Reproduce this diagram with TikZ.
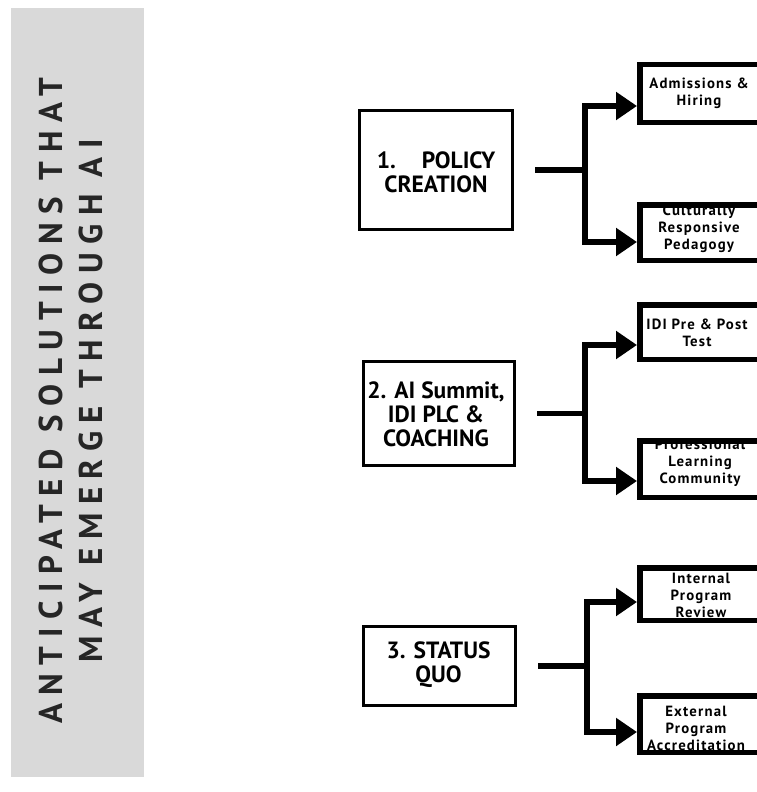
\documentclass[tikz,border=0pt]{standalone}
\usepackage{fontspec}
\setmainfont{PT Sans}
\newfontfamily\titlefont[LetterSpace=26]{PT Sans Bold}
\newfontfamily\boxfont{PT Sans Bold}
\newfontfamily\leaffont[LetterSpace=8]{PT Sans Bold}
\usetikzlibrary{arrows.meta}
\definecolor{bandgray}{HTML}{D9D9D9}
\definecolor{titleink}{HTML}{262626}
\begin{document}
\begin{tikzpicture}[x=1pt,y=-1pt,
  mainbox/.style={draw, line width=3pt, inner sep=0pt},
  maintext/.style={inner sep=0pt, align=center, anchor=north,
    font=\boxfont\fontsize{23.5}{24}\selectfont},
  leafbox/.style={draw, line width=5.5pt, inner sep=0pt, minimum width=194.5pt},
  leaftext/.style={inner sep=0pt, align=center, anchor=north,
    font=\leaffont\fontsize{14.8}{17.2}\selectfont},
  link/.style={line width=5.5pt},
  branch/.style={line width=5.5pt, -{Triangle[length=21pt,width=27pt]}},
]
\useasboundingbox (0,0) rectangle (757,792);

% side band with the heading
\fill[bandgray] (11,8) rectangle (144,777);
\node[rotate=90, align=center, text=titleink,
  font=\titlefont\fontsize{33}{40}\selectfont] (title) at (71,401)
  {ANTICIPATED SOLUTIONS THAT\\MAY EMERGE THROUGH AI};

% main boxes
\node[mainbox, minimum width=153pt, minimum height=119pt] (b1) at (436,170) {};
\node[mainbox, minimum width=151pt, minimum height=104pt] (b2) at (439,413.5) {};
\node[mainbox, minimum width=152pt, minimum height=79pt] (b3) at (439.5,666) {};
\node[maintext] (t1) at (436,152) {1.\hspace{1.1em}POLICY\\CREATION};
\node[maintext] (t2) at (436,382) {2. AI Summit,\\IDI PLC \&\\COACHING};
\node[maintext] (t3) at (438.5,642) {3. STATUS\\QUO};

% leaf texts (the box borders are drawn over them)
\node[leaftext] (l1) at (699,77.6) {Admissions \&\\Hiring};
\node[leaftext] (l2) at (699,204.6) {Culturally\\Responsive\\Pedagogy};
\node[leaftext] (l3) at (697,318.8) {IDI Pre \& Post\\Test};
\node[leaftext] (l4) at (700,438.6) {Professional\\Learning\\Community};
\node[leaftext] (l5) at (701,572.5) {Internal\\Program\\Review};
\node[leaftext] (l6) at (696,706) {External\\Program\\Accreditation};

% leaf boxes
\node[leafbox, minimum height=57.5pt] (s1) at (737,93.5) {};
\node[leafbox, minimum height=55.5pt] (s2) at (737,232.5) {};
\node[leafbox, minimum height=54.5pt] (s3) at (737,332) {};
\node[leafbox, minimum height=56.5pt] (s4) at (737,469) {};
\node[leafbox, minimum height=52.5pt] (s5) at (737,594) {};
\node[leafbox, minimum height=56.5pt] (s6) at (737,724) {};

% branching connectors
\coordinate (j1) at (585,170);
\coordinate (j2) at (585,413.5);
\coordinate (j3) at (587,666);
\draw[link] ([xshift=21pt]b1.east) -- (j1);
\draw[link] ([xshift=21pt]b2.east) -- (j2);
\draw[link] ([xshift=21pt]b3.east) -- (j3);
\draw[branch] (j1) |- ([yshift=-12.5pt]s1.west);
\draw[branch] (j1) |- ([yshift=-9.5pt]s2.west);
\draw[branch] (j2) |- ([yshift=-13pt]s3.west);
\draw[branch] (j2) |- ([yshift=-12pt]s4.west);
\draw[branch] (j3) |- ([yshift=-8pt]s5.west);
\draw[branch] (j3) |- ([yshift=-8pt]s6.west);
\end{tikzpicture}
\end{document}
